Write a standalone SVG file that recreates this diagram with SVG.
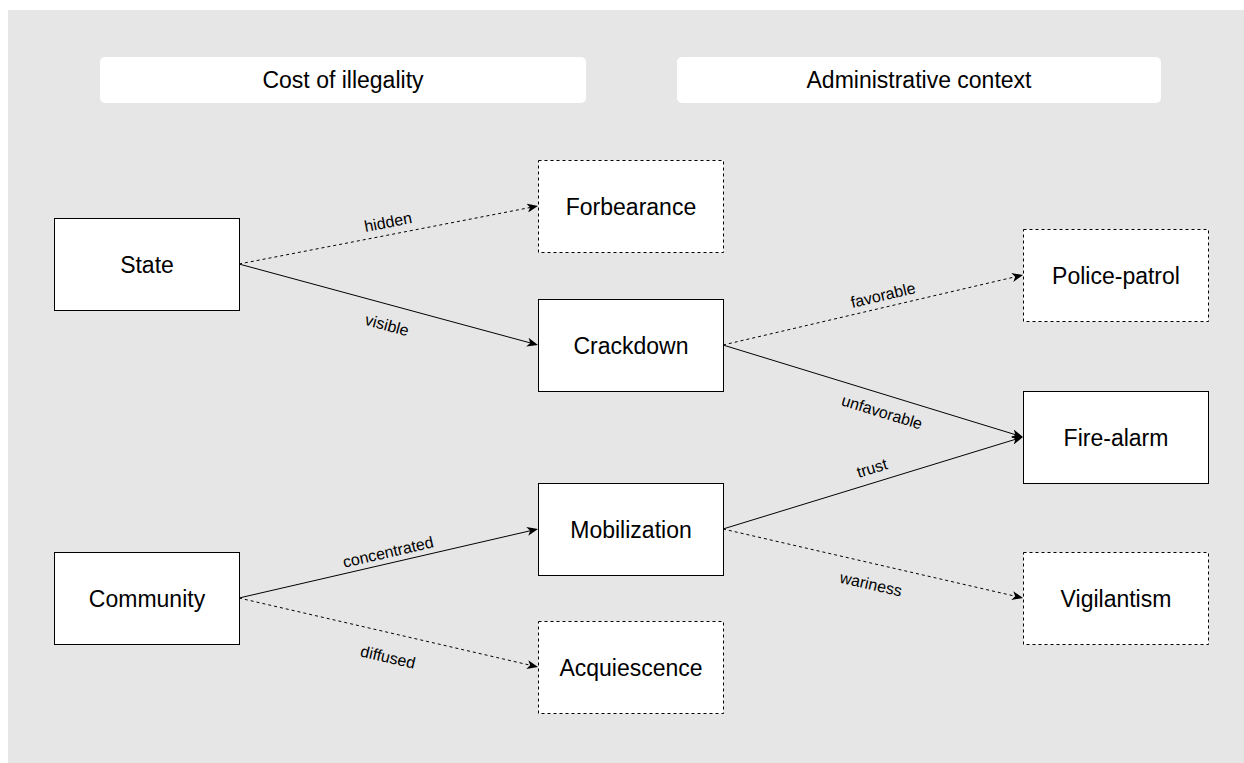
<svg xmlns="http://www.w3.org/2000/svg" width="1244" height="763" viewBox="0 0 1244 763">
<style>
.bg{fill:#e6e6e6}
.hdr{fill:#fff}
.node{fill:#fff;stroke:#000;stroke-width:1}
.dash{stroke-dasharray:3 3}
.t{font-family:"Liberation Sans",Arial,Helvetica,sans-serif;font-size:23px;fill:#000;text-anchor:middle}
.lbl{font-family:"Liberation Sans",Arial,Helvetica,sans-serif;font-size:16px;fill:#000;text-anchor:middle}
.e{fill:none;stroke:#000;stroke-width:1;marker-end:url(#arr)}
</style>
<defs>
<marker id="arr" viewBox="0 0 11 9" refX="5" refY="4.5" markerWidth="11" markerHeight="9" markerUnits="userSpaceOnUse" orient="auto">
<path d="M0,0 L11,4.5 L0,9 L3,4.5 Z" fill="#000"/>
</marker>
</defs>
<rect class="bg" x="8" y="10" width="1236" height="753"/>
<g id="header-cost">
<rect class="hdr" x="100" y="57" width="486" height="46" rx="5"/>
<text class="t" x="343" y="88">Cost of illegality</text>
</g>
<g id="header-admin">
<rect class="hdr" x="677" y="57" width="484" height="46" rx="5"/>
<text class="t" x="919" y="88">Administrative context</text>
</g>
<g id="connectors">
<path class="e dash" d="M239,264 L532.11,207.14"/>
<path class="e" d="M239,264 L532.21,343.43"/>
<path class="e dash" d="M723,345 L1017.16,276.36"/>
<path class="e" d="M723,345 L1017.26,435.24"/>
<path class="e" d="M723,529 L1017.26,438.76"/>
<path class="e dash" d="M723,529 L1017.15,596.65"/>
<path class="e" d="M239,598 L532.15,530.35"/>
<path class="e dash" d="M239,598 L532.15,665.65"/>
<text class="lbl" transform="translate(388,222) rotate(-10.98)" dy="0.35em">hidden</text>
<text class="lbl" transform="translate(387,325) rotate(15.16)" dy="0.35em">visible</text>
<text class="lbl" transform="translate(883,295) rotate(-13.13)" dy="0.35em">favorable</text>
<text class="lbl" transform="translate(882,412) rotate(17.05)" dy="0.35em">unfavorable</text>
<text class="lbl" transform="translate(872,468) rotate(-17.05)" dy="0.35em">trust</text>
<text class="lbl" transform="translate(871,584) rotate(12.95)" dy="0.35em">wariness</text>
<text class="lbl" transform="translate(388,552) rotate(-12.99)" dy="0.35em">concentrated</text>
<text class="lbl" transform="translate(388,657) rotate(12.99)" dy="0.35em">diffused</text>
</g>
<g id="state">
<rect class="node" x="54.5" y="218.5" width="185" height="92"/>
<text class="t" x="147" y="272.5">State</text>
</g>
<g id="community">
<rect class="node" x="54.5" y="552.5" width="185" height="92"/>
<text class="t" x="147" y="606.5">Community</text>
</g>
<g id="forbearance">
<rect class="node dash" x="538.5" y="160.5" width="185" height="92"/>
<text class="t" x="631" y="214.5">Forbearance</text>
</g>
<g id="crackdown">
<rect class="node" x="538.5" y="299.5" width="185" height="92"/>
<text class="t" x="631" y="353.5">Crackdown</text>
</g>
<g id="mobilization">
<rect class="node" x="538.5" y="483.5" width="185" height="92"/>
<text class="t" x="631" y="537.5">Mobilization</text>
</g>
<g id="acquiescence">
<rect class="node dash" x="538.5" y="621.5" width="185" height="92"/>
<text class="t" x="631" y="675.5">Acquiescence</text>
</g>
<g id="police-patrol">
<rect class="node dash" x="1023.5" y="229.5" width="185" height="92"/>
<text class="t" x="1116" y="283.5">Police-patrol</text>
</g>
<g id="fire-alarm">
<rect class="node" x="1023.5" y="391.5" width="185" height="92"/>
<text class="t" x="1116" y="445.5">Fire-alarm</text>
</g>
<g id="vigilantism">
<rect class="node dash" x="1023.5" y="552.5" width="185" height="92"/>
<text class="t" x="1116" y="606.5">Vigilantism</text>
</g>
</svg>
